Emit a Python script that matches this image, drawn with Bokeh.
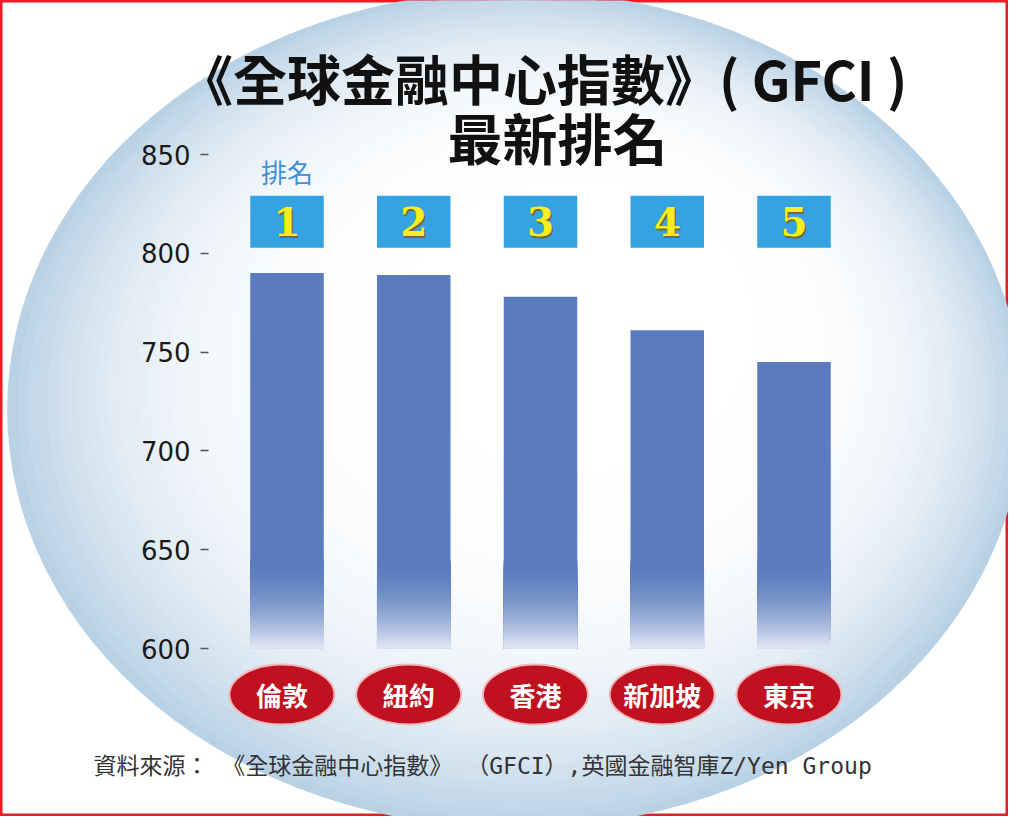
from bokeh.plotting import figure
from bokeh.models import FixedTicker, Label, Range1d
from bokeh.core.properties import value
from bokeh.embed import file_html
from bokeh.resources import INLINE

cities = ["倫敦", "紐約", "香港", "新加坡", "東京"]
ranks = ["1", "2", "3", "4", "5"]
scores = [790, 789, 778, 761, 745]
y_ticks = [600, 650, 700, 750, 800, 850]
title_lines = ["《全球金融中心指數》(  GFCI  )", "最新排名"]
rank_caption = "排名"
source_note = "資料來源： 《全球金融中心指數》 （GFCI）,英國金融智庫Z/Yen Group"

W, H = 1008, 816
CJK = "Noto Sans CJK TC"
BAR = "#5a7cbe"
BAR_FADE = "#e6ecf6"
RING_EDGE = "#b9d1e5"


def mix(c1, c2, f):
    a = [int(c1[i:i + 2], 16) for i in (1, 3, 5)]
    b = [int(c2[i:i + 2], 16) for i in (1, 3, 5)]
    return "#%02x%02x%02x" % tuple(round(u + (v - u) * f) for u, v in zip(a, b))


x = list(range(len(cities)))
base = y_ticks[0]

p = figure(width=W, height=H,
           x_range=Range1d(-2.2604, 5.6923), y_range=Range1d(514.98, 927.94),
           output_backend="svg", toolbar_location=None, x_axis_location=None,
           min_border=0, background_fill_color="white", border_fill_color="white")

# soft blue oval behind everything (stacked rings fake a radial gradient)
oval_x, oval_y = 1.80, 721.0
focus_x, focus_y = 2.55, 786.0
steps = 60
rx, ry, rw, rh, rc = [], [], [], [], []
for k in range(steps):
    t = 1 - k / steps
    rx.append(focus_x + t * (oval_x - focus_x))
    ry.append(focus_y + t * (oval_y - focus_y))
    rw.append(1016 * t)
    rh.append(838 * t)
    rc.append(mix("#ffffff", RING_EDGE, t ** 4.5))
p.ellipse(x=rx, y=ry, width=rw, height=rh, width_units="screen", height_units="screen",
          fill_color=rc, line_color=None)

# bars, with a fade towards the baseline
p.vbar(x=x, top=scores, bottom=base, width=0.58, fill_color=BAR, line_color=None)
n = 36
fade_top = base + 45
fx, ft, fc = [], [], []
for j in range(n, 0, -1):
    s = j / n
    hi = base + (fade_top - base) * s
    for i in x:
        fx.append(i)
        ft.append(hi)
        fc.append(mix(BAR_FADE, BAR, 1 - (1 - s) ** 1.8))
p.vbar(x=fx, top=ft, bottom=base, width=0.58, fill_color=fc, line_color=None)

# rank boxes
p.rect(x=x, y=816, width=0.58, height=52, height_units="screen",
       fill_color="#35a2e2", line_color=None)
p.text(x=x, y=816, text=ranks, x_offset=1.5, y_offset=1.5, text_align="center",
       text_baseline="middle", text_font=value("DejaVu Serif"), text_font_style="bold",
       text_font_size="39px", text_color="#6f6a3c")
p.text(x=x, y=816, text=ranks, text_align="center", text_baseline="middle",
       text_font=value("DejaVu Serif"), text_font_style="bold",
       text_font_size="39px", text_color="#f8ee1b")

# city badges
bx = [i - 0.04 for i in x]
p.ellipse(x=bx, y=576.7, width=105, height=60, width_units="screen", height_units="screen",
          fill_color="#bf111f", line_color="#f3b7ba", line_width=2)
p.text(x=bx, y=576.7, text=cities, text_align="center", text_baseline="middle",
       text_font=value(CJK), text_font_style="bold", text_font_size="26px",
       text_color="white")

p.yaxis.fixed_location = -0.619
p.yaxis.ticker = FixedTicker(ticks=y_ticks)
p.yaxis.axis_line_color = None
p.yaxis.major_tick_in = 0
p.yaxis.major_tick_out = 8
p.yaxis.major_tick_line_color = "#555555"
p.yaxis.major_tick_line_width = 1.5
p.yaxis.minor_tick_line_color = None
p.yaxis.major_label_text_font = "DejaVu Sans"
p.yaxis.major_label_text_font_size = "26px"
p.yaxis.major_label_text_color = "#1a1a1a"
p.yaxis.major_label_standoff = 10
p.xgrid.grid_line_color = None
p.ygrid.grid_line_color = None

p.outline_line_color = "#ec1c24"
p.outline_line_width = 4

p.add_layout(Label(x=555, y=739, x_units="screen", y_units="screen", text=title_lines[0],
                   text_align="center", text_baseline="middle", text_font=CJK,
                   text_font_style="bold", text_font_size="54px", text_color="#111111"))
p.add_layout(Label(x=557, y=681, x_units="screen", y_units="screen", text=title_lines[1],
                   text_align="center", text_baseline="middle", text_font=CJK,
                   text_font_style="bold", text_font_size="55px", text_color="#111111"))
p.add_layout(Label(x=0, y=645, x_units="data", y_units="screen", text=rank_caption,
                   text_align="center", text_baseline="middle", text_font=CJK,
                   text_font_size="26px", text_color="#3b8ed8"))
p.add_layout(Label(x=93, y=51, x_units="screen", y_units="screen", text=source_note,
                   text_align="left", text_baseline="middle",
                   text_font="'DejaVu Sans Mono', 'Noto Sans CJK TC'",
                   text_font_size="23px", text_color="#333333"))

open("out.html", "w").write(file_html(p, INLINE))
